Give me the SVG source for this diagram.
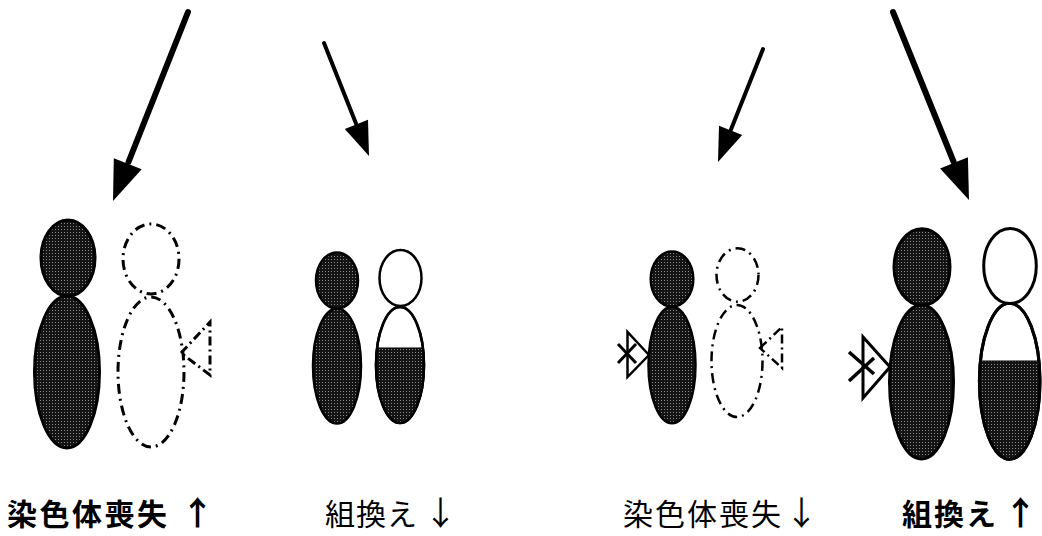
<svg xmlns="http://www.w3.org/2000/svg" width="1042" height="536" viewBox="0 0 1042 536">
  <defs>
    <!-- stippled dark tone used for filled chromatin -->
    <pattern id="stipple" width="3" height="3" patternUnits="userSpaceOnUse">
      <rect width="3" height="3" fill="#141414"/>
      <rect x="1" y="1" width="1" height="1" fill="#8a8a8a"/>
    </pattern>
    <clipPath id="clip-lower-2"><rect x="370" y="348" width="60" height="80"/></clipPath>
    <clipPath id="clip-lower-4"><rect x="975" y="361" width="67" height="102"/></clipPath>
  </defs>
  <style>
    .dark { fill: url(#stipple); stroke: #000; }
    .open { fill: #fff; stroke: #000; }
    .ghost { fill: none; stroke: #000; stroke-dasharray: 10 5 2 5; }
    .tri { fill: #fff; stroke: #000; stroke-linejoin: miter; }
    .ghost-tri { fill: none; stroke: #000; stroke-dasharray: 9 4 2 4; }
    .cross { stroke: #000; stroke-linecap: butt; }
    .shaft { stroke: #000; stroke-linecap: round; fill: none; }
    .head { fill: #000; stroke: none; }
    .label { font-family: "Noto Sans CJK JP", "Noto Sans CJK SC", sans-serif; font-size: 30px; fill: #000; }
    .bold { font-weight: 700; }
    .trend { font-size: 33px; }
  </style>

  <!-- arrows pointing at each chromosome pair -->
  <g id="connectors">
    <line class="shaft" x1="188" y1="12" x2="128.5" y2="162" stroke-width="6"/>
    <polygon class="head" points="113,201 141.7,169.3 113.8,158.3"/>

    <line class="shaft" x1="324" y1="43" x2="356" y2="123.5" stroke-width="4"/>
    <polygon class="head" points="369,156 368,119.8 344.8,129"/>

    <line class="shaft" x1="763" y1="49" x2="731" y2="129.5" stroke-width="4"/>
    <polygon class="head" points="718,162 742.2,135 719,125.8"/>

    <line class="shaft" x1="893" y1="12" x2="953.5" y2="161.5" stroke-width="6"/>
    <polygon class="head" points="969,200 967.9,157.3 940.1,168.5"/>
  </g>

  <!-- pair 1: chromosome loss, increased -->
  <g id="pair-1">
    <ellipse class="dark" cx="67" cy="372" rx="32.5" ry="76" stroke-width="3"/>
    <ellipse class="dark" cx="68" cy="258" rx="27" ry="38" stroke-width="3"/>
    <ellipse class="ghost" cx="151" cy="259" rx="28" ry="35" stroke-width="3"/>
    <ellipse class="ghost" cx="151" cy="372" rx="33" ry="75" stroke-width="3"/>
    <polygon class="ghost-tri" points="181,353 210,322 210,375" stroke-width="3"/>
    <text class="label bold" x="7" y="525" letter-spacing="2.5">染色体喪失<tspan class="trend" x="181">↑</tspan></text>
  </g>

  <!-- pair 2: recombination, decreased -->
  <g id="pair-2">
    <ellipse class="dark" cx="337" cy="366" rx="24" ry="57.5" stroke-width="2.5"/>
    <ellipse class="dark" cx="337" cy="280.5" rx="21" ry="28" stroke-width="2.5"/>
    <ellipse class="open" cx="400" cy="365" rx="24" ry="58" stroke-width="2.5"/>
    <ellipse cx="400" cy="365" rx="24" ry="58" fill="url(#stipple)" clip-path="url(#clip-lower-2)"/>
    <ellipse cx="400" cy="365" rx="24" ry="58" fill="none" stroke="#000" stroke-width="2.5"/>
    <line x1="376.5" y1="348" x2="423.5" y2="348" stroke="#000" stroke-width="1"/>
    <ellipse class="open" cx="400.5" cy="278" rx="21" ry="28" stroke-width="2.5"/>
    <text class="label" x="325" y="525" letter-spacing="1">組換え<tspan class="trend" x="424">↓</tspan></text>
  </g>

  <!-- pair 3: chromosome loss, decreased -->
  <g id="pair-3">
    <polygon class="tri" points="649,355 627.5,332 627.5,377" stroke-width="2.5"/>
    <line class="cross" x1="618" y1="344" x2="636" y2="363" stroke-width="3"/>
    <line class="cross" x1="618" y1="363" x2="636" y2="344" stroke-width="3"/>
    <ellipse class="dark" cx="672" cy="365" rx="23.5" ry="58.3" stroke-width="2.5"/>
    <ellipse class="dark" cx="672" cy="279" rx="21.3" ry="27.5" stroke-width="2.5"/>
    <ellipse class="ghost" cx="737.5" cy="275" rx="21" ry="26.7" stroke-width="2.5"/>
    <ellipse class="ghost" cx="737" cy="361" rx="25.5" ry="56" stroke-width="2.5"/>
    <polygon class="ghost-tri" points="760,348 782,327 782,368" stroke-width="2.5"/>
    <text class="label" x="623" y="525" letter-spacing="2">染色体喪失<tspan class="trend" x="785">↓</tspan></text>
  </g>

  <!-- pair 4: recombination, increased -->
  <g id="pair-4">
    <polygon class="tri" points="890,367 863,337 863,398" stroke-width="3"/>
    <line class="cross" x1="849" y1="352" x2="874" y2="374" stroke-width="3.5"/>
    <line class="cross" x1="849" y1="381" x2="874" y2="358" stroke-width="3.5"/>
    <ellipse class="dark" cx="921.5" cy="382" rx="32" ry="77" stroke-width="3"/>
    <ellipse class="dark" cx="922" cy="267" rx="28" ry="38.3" stroke-width="3"/>
    <ellipse class="open" cx="1009.7" cy="381.3" rx="30.3" ry="78" stroke-width="3"/>
    <ellipse cx="1009.7" cy="381.3" rx="30.3" ry="78" fill="url(#stipple)" clip-path="url(#clip-lower-4)"/>
    <ellipse cx="1009.7" cy="381.3" rx="30.3" ry="78" fill="none" stroke="#000" stroke-width="3"/>
    <line x1="980" y1="361" x2="1039.5" y2="361" stroke="#000" stroke-width="1"/>
    <ellipse class="open" cx="1010" cy="266" rx="26.3" ry="37.5" stroke-width="3"/>
    <text class="label bold" x="902" y="525" letter-spacing="2">組換え<tspan class="trend" x="1004">↑</tspan></text>
  </g>
</svg>
